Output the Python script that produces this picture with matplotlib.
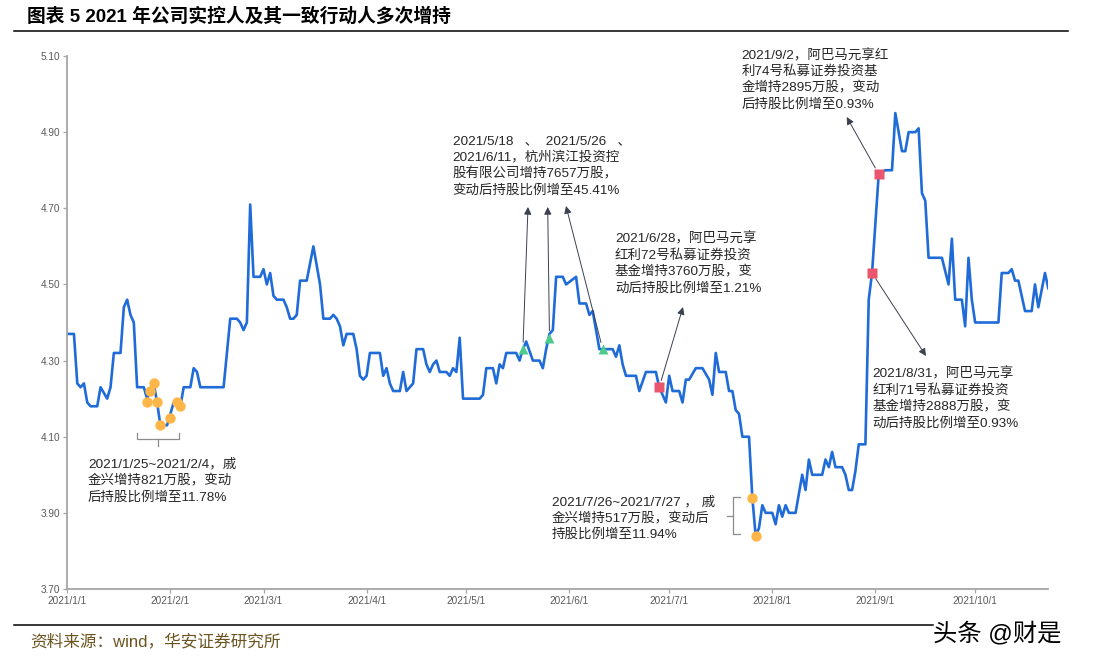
import matplotlib
matplotlib.use("Agg")
import matplotlib.pyplot as plt
from matplotlib.lines import Line2D
import pandas as pd

plt.rcParams['font.family'] = ['Liberation Sans', 'Noto Sans CJK SC']

# ---------------- data ----------------
line_dates = [
    "01-01", "01-03", "01-04", "01-05", "01-06", "01-07", "01-08", "01-10", "01-11", "01-13",
    "01-14", "01-15", "01-17", "01-18", "01-19", "01-20", "01-21", "01-22", "01-24", "01-25",
    "01-26", "01-27", "01-28", "01-29", "01-31", "02-02", "02-04", "02-05", "02-07", "02-08",
    "02-09", "02-10", "02-17", "02-19", "02-21", "02-22", "02-23", "02-24", "02-25", "02-26",
    "02-28", "03-01", "03-02", "03-03", "03-04", "03-05", "03-07", "03-08", "03-09", "03-10",
    "03-11", "03-12", "03-14", "03-16", "03-17", "03-18", "03-19", "03-21", "03-22", "03-23",
    "03-24", "03-25", "03-26", "03-28", "03-29", "03-30", "03-31", "04-01", "04-02", "04-05",
    "04-06", "04-07", "04-08", "04-09", "04-11", "04-12", "04-13", "04-15", "04-16", "04-18",
    "04-19", "04-20", "04-21", "04-22", "04-23", "04-25", "04-26", "04-27", "04-28", "04-29",
    "04-30", "05-05", "05-06", "05-07", "05-09", "05-10", "05-11", "05-12", "05-13", "05-16",
    "05-17", "05-18", "05-19", "05-21", "05-23", "05-24", "05-25", "05-26", "05-27", "05-28",
    "05-30", "05-31", "06-03", "06-04", "06-06", "06-07", "06-08", "06-10", "06-14", "06-15",
    "06-16", "06-17", "06-18", "06-21", "06-22", "06-24", "06-27", "06-28", "06-30", "07-01",
    "07-02", "07-04", "07-05", "07-06", "07-07", "07-09", "07-11", "07-13", "07-14", "07-15",
    "07-16", "07-18", "07-19", "07-20", "07-21", "07-22", "07-23", "07-25", "07-26", "07-27",
    "07-28", "07-29", "07-30", "08-01", "08-02", "08-03", "08-04", "08-05", "08-06", "08-08",
    "08-10", "08-11", "08-12", "08-13", "08-16", "08-17", "08-18", "08-19", "08-20", "08-22",
    "08-23", "08-24", "08-25", "08-26", "08-27", "08-29", "08-30", "08-31", "09-02", "09-04",
    "09-06", "09-07", "09-09", "09-10", "09-11", "09-13", "09-14", "09-15", "09-16", "09-17",
    "09-21", "09-23", "09-24", "09-25", "09-27", "09-28", "09-29", "09-30", "10-01", "10-08",
    "10-09", "10-11", "10-12", "10-13", "10-14", "10-16", "10-18", "10-19", "10-20", "10-22",
    "10-23",
]
prices = [
    4.37, 4.37, 4.24, 4.23, 4.24, 4.19, 4.18, 4.18, 4.23, 4.20,
    4.23, 4.32, 4.32, 4.44, 4.46, 4.42, 4.40, 4.23, 4.23, 4.20,
    4.22, 4.24, 4.19, 4.13, 4.13, 4.19, 4.18, 4.23, 4.23, 4.28,
    4.27, 4.23, 4.23, 4.41, 4.41, 4.40, 4.38, 4.40, 4.71, 4.52,
    4.52, 4.54, 4.50, 4.53, 4.47, 4.46, 4.46, 4.44, 4.41, 4.41,
    4.42, 4.51, 4.51, 4.60, 4.55, 4.50, 4.41, 4.41, 4.42, 4.41,
    4.39, 4.34, 4.37, 4.37, 4.33, 4.26, 4.25, 4.26, 4.32, 4.32,
    4.26, 4.28, 4.24, 4.22, 4.22, 4.27, 4.22, 4.24, 4.33, 4.33,
    4.29, 4.27, 4.29, 4.30, 4.27, 4.27, 4.26, 4.28, 4.27, 4.36,
    4.20, 4.20, 4.21, 4.28, 4.28, 4.24, 4.29, 4.28, 4.32, 4.32,
    4.30, 4.33, 4.35, 4.30, 4.30, 4.28, 4.33, 4.37, 4.38, 4.52,
    4.52, 4.50, 4.52, 4.45, 4.45, 4.42, 4.43, 4.33, 4.33, 4.31,
    4.34, 4.29, 4.26, 4.26, 4.22, 4.27, 4.27, 4.23, 4.19, 4.26,
    4.22, 4.22, 4.19, 4.25, 4.25, 4.28, 4.28, 4.25, 4.21, 4.32,
    4.27, 4.27, 4.22, 4.22, 4.17, 4.16, 4.10, 4.10, 3.94, 3.84,
    3.86, 3.92, 3.90, 3.90, 3.87, 3.92, 3.89, 3.92, 3.90, 3.90,
    4.00, 3.96, 4.04, 4.00, 4.00, 4.04, 4.02, 4.06, 4.02, 4.02,
    4.00, 3.96, 3.96, 4.01, 4.08, 4.08, 4.46, 4.53, 4.79, 4.80,
    4.80, 4.95, 4.85, 4.85, 4.90, 4.90, 4.91, 4.74, 4.72, 4.57,
    4.57, 4.50, 4.62, 4.46, 4.46, 4.39, 4.57, 4.46, 4.40, 4.40,
    4.53, 4.53, 4.54, 4.51, 4.51, 4.43, 4.43, 4.50, 4.44, 4.53,
    4.49,
]

# holding-increase markers
qjx_dates_1 = ["01-25", "01-26", "01-27", "01-28", "01-29", "02-01", "02-03", "02-04"]
qjx_vals_1 = [4.19, 4.22, 4.24, 4.19, 4.13, 4.15, 4.19, 4.18]
qjx_dates_2 = ["07-26", "07-27"]
qjx_vals_2 = [3.94, 3.84]
bj_dates = ["05-18", "05-26", "06-11"]
bj_vals = [4.33, 4.36, 4.33]
abm_dates = ["06-28", "08-31", "09-02"]
abm_vals = [4.23, 4.53, 4.79]

y_ticks = [3.70, 3.90, 4.10, 4.30, 4.50, 4.70, 4.90, 5.10]
x_tick_dates = ["01-01", "02-01", "03-01", "04-01", "05-01", "06-01", "07-01", "08-01", "09-01", "10-01"]
x_tick_labels = ["2021/1/1", "2021/2/1", "2021/3/1", "2021/4/1", "2021/5/1",
                 "2021/6/1", "2021/7/1", "2021/8/1", "2021/9/1", "2021/10/1"]

title = "图表 5 2021 年公司实控人及其一致行动人多次增持"
source = "资料来源：wind，华安证券研究所"
watermark = "头条 @财是"

note_qjx1 = ["2021/1/25~2021/2/4，戚", "金兴增持821万股，变动", "后持股比例增至11.78%"]
note_bj = ["2021/5/18   、  2021/5/26   、", "2021/6/11，杭州滨江投资控",
           "股有限公司增持7657万股，", "变动后持股比例增至45.41%"]
note_628 = ["2021/6/28，阿巴马元享", "红利72号私募证券投资", "基金增持3760万股，变", "动后持股比例增至1.21%"]
note_902 = ["2021/9/2，阿巴马元享红", "利74号私募证券投资基", "金增持2895万股，变动", "后持股比例增至0.93%"]
note_831 = ["2021/8/31，阿巴马元享", "红利71号私募证券投资", "基金增持2888万股，变", "动后持股比例增至0.93%"]
note_qjx2 = ["2021/7/26~2021/7/27 ， 戚", "金兴增持517万股，变动后", "持股比例增至11.94%"]


def to_dt(lst):
    return pd.to_datetime(["2021-" + d for d in lst])


# ---------------- figure ----------------
W, H = 1096, 669
fig = plt.figure(figsize=(W / 100, H / 100), dpi=100)
fig.patch.set_facecolor("white")


def P(x, y):
    return (x / W, 1 - y / H)


ax = fig.add_axes([67.3 / W, 1 - 589 / H, (1048.3 - 67.3) / W, 533 / H])

ax.plot(to_dt(line_dates), prices, color="#1F6BD8", lw=1.9, zorder=2)
ax.plot(to_dt(qjx_dates_1), qjx_vals_1, "o", color="#FFB648", ms=7.5, mec="none", zorder=3)
ax.plot(to_dt(qjx_dates_2), qjx_vals_2, "o", color="#FFB648", ms=7.5, mec="none", zorder=3)
ax.plot(to_dt(bj_dates), bj_vals, "^", color="#4ECB8D", ms=7, mec="none", zorder=3)
ax.plot(to_dt(abm_dates), abm_vals, "s", color="#E9566E", ms=7, mec="none", zorder=3)

ax.set_xlim(pd.Timestamp("2021-01-01"), pd.Timestamp("2021-10-23"))
ax.set_ylim(3.70, 5.10)
ax.set_yticks(y_ticks)
ax.set_yticklabels([f"{v:.2f}" for v in y_ticks])
ax.set_xticks(to_dt(x_tick_dates))
ax.set_xticklabels(x_tick_labels)

for s in ["top", "right"]:
    ax.spines[s].set_visible(False)
for s in ["left", "bottom"]:
    ax.spines[s].set_color("#A6A6A6")
    ax.spines[s].set_linewidth(1.3)
ax.tick_params(axis="both", length=3, width=0.9, color="#A6A6A6",
               labelsize=7.2, labelcolor="#595959", pad=2)
ax.set_facecolor("none")

# ---------------- arrows ----------------
arrow_kw = dict(arrowstyle="-|>", color="#3B4150", lw=0.7, shrinkA=5, shrinkB=0,
                mutation_scale=11)
arrow_heads = [(to_dt([bj_dates[0]])[0], bj_vals[0], 528, 207),
               (to_dt([bj_dates[1]])[0], bj_vals[1], 547.7, 207),
               (to_dt([bj_dates[2]])[0], bj_vals[2], 566, 206),
               (to_dt([abm_dates[0]])[0], abm_vals[0], 683, 307),
               (to_dt([abm_dates[2]])[0], abm_vals[2], 846.7, 117),
               (to_dt([abm_dates[1]])[0], abm_vals[1], 926, 356)]
for dx, dy, hx, hy in arrow_heads:
    ax.annotate("", xy=P(hx, hy), xycoords="figure fraction",
                xytext=(dx, dy), textcoords="data", arrowprops=arrow_kw, zorder=4)

# ---------------- braces ----------------
brace_col = "#8C8C8C"
for xs, ys in [([136.7, 136.7, 179.3, 179.3], [433.3, 439.3, 439.3, 433.3]),
               ([158, 158], [439.3, 445.5]),
               ([740, 733.3, 733.3, 740], [496.7, 496.7, 534.3, 534.3]),
               ([733.3, 726.5], [516, 516])]:
    fx = [x / W for x in xs]
    fy = [1 - y / H for y in ys]
    fig.add_artist(Line2D(fx, fy, transform=fig.transFigure, color=brace_col, lw=0.9))

# ---------------- notes ----------------
txt_col = "#262626"


def note(lines, x, y0, dy=16.4):
    for i, t in enumerate(lines):
        fig.text(*P(x, y0 + i * dy), t, ha="left", va="center", fontsize=9.7, color=txt_col)


note(note_qjx1, 88, 464.5)
note(note_bj, 452.7, 141)
note(note_628, 615, 239)
note(note_902, 741.7, 55.5)
note(note_831, 872.3, 374)
note(note_qjx2, 551.7, 502)

# ---------------- title / footer ----------------
fig.text(*P(27, 17), title, ha="left", va="center", fontsize=13.5,
         fontweight="bold", color="black")
fig.add_artist(Line2D([14 / W, 1068 / W], [1 - 31 / H, 1 - 31 / H],
                      transform=fig.transFigure, color="black", lw=1.1))
fig.add_artist(Line2D([14 / W, 933 / W], [1 - 625 / H, 1 - 625 / H],
                      transform=fig.transFigure, color="black", lw=1.1))
fig.text(*P(30, 641), source, ha="left", va="center", fontsize=12, color="#6B5420")
fig.text(*P(933, 633), watermark, ha="left", va="center", fontsize=17.5, color="black")

fig.savefig("out.png", dpi=100)
